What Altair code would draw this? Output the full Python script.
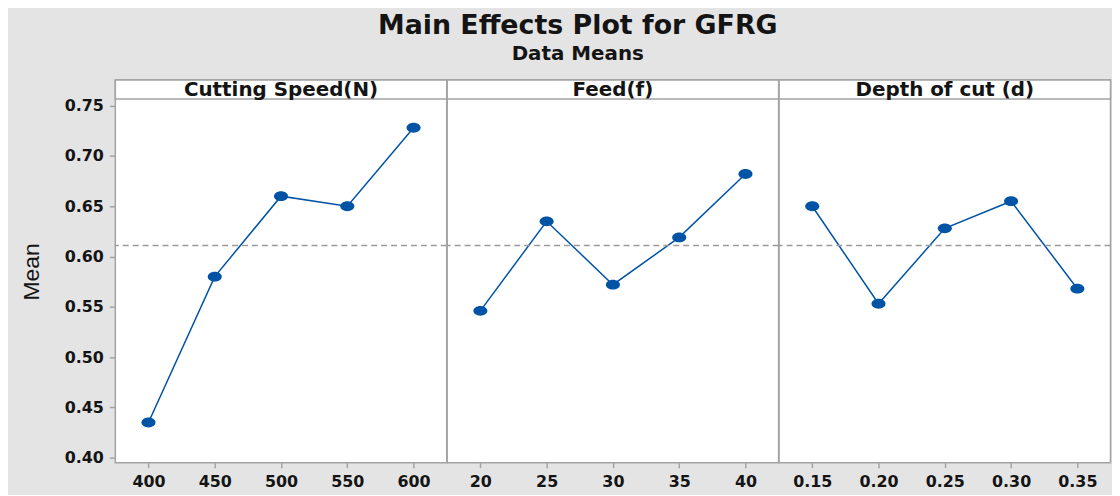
import altair as alt
import pandas as pd

# ---- data ----
speed_levels = [400, 450, 500, 550, 600]
speed_means = [0.435, 0.580, 0.660, 0.650, 0.728]

feed_levels = [20, 25, 30, 35, 40]
feed_means = [0.546, 0.635, 0.572, 0.619, 0.682]

depth_levels = [0.15, 0.20, 0.25, 0.30, 0.35]
depth_means = [0.650, 0.553, 0.628, 0.655, 0.568]

grand_mean = 0.611
panel_titles = ["Cutting Speed(N)", "Feed(f)", "Depth of cut (d)"]
y_ticks = [0.40, 0.45, 0.50, 0.55, 0.60, 0.65, 0.70, 0.75]

# ---- style ----
BLUE = "#0053a5"
FRAME = "#a3a3a3"
BG = "#e4e4e4"
TXT = "#141414"
W = 333.5
H = 385
HEAD = 19
Y_DOMAIN = [0.39506, 0.77540]
LABEL_FONT = "DejaVu Sans"
ELLIPSE = "M-1,0A1,0.7,0,1,1,1,0A1,0.7,0,1,1,-1,0Z"


def panel(levels, means, title, x_domain, fmt, show_y):
    df = pd.DataFrame({"level": levels, "mean": means})
    x = alt.X(
        "level:Q",
        scale=alt.Scale(domain=x_domain, nice=False, zero=False),
        axis=alt.Axis(
            values=levels, format=fmt, title=None, grid=False, domain=False,
            tickSize=5, tickColor=FRAME, tickWidth=1.5,
            labelFont=LABEL_FONT, labelFontSize=16, labelFontWeight="bold",
            labelColor=TXT, labelPadding=6, labelFlush=False,
        ),
    )
    if show_y:
        y_axis = alt.Axis(
            values=y_ticks, format=".2f", title="Mean", grid=False, domain=False,
            tickSize=6, tickColor=FRAME, tickWidth=1.5,
            labelFont=LABEL_FONT, labelFontSize=16, labelFontWeight="bold",
            labelColor=TXT, labelPadding=6,
            titleFont="Liberation Sans Narrow, Liberation Sans", titleFontSize=23,
            titleFontWeight="normal", titleColor=TXT, titlePadding=21,
        )
    else:
        y_axis = None
    yscale = alt.Scale(domain=Y_DOMAIN, nice=False, zero=False)
    y = alt.Y("mean:Q", scale=yscale, axis=y_axis)

    base = alt.Chart(df)
    line = base.mark_line(color=BLUE, strokeWidth=1.5).encode(x=x, y=y)
    pts = base.mark_point(
        filled=True, color=BLUE, opacity=1, size=200, shape=ELLIPSE
    ).encode(x=x, y=y)

    gdf = pd.DataFrame({"mean": [grand_mean]})
    rule = alt.Chart(gdf).mark_rule(
        color="#9a9a9a", strokeDash=[6, 4], strokeWidth=1.5
    ).encode(y=alt.Y("mean:Q", scale=yscale, axis=y_axis))

    hdf = pd.DataFrame({"t": [title]})
    head_box = alt.Chart(hdf).mark_rect(
        fill="white", stroke=FRAME, strokeWidth=1.5
    ).encode(
        x=alt.value(0), x2=alt.value(W), y=alt.value(0), y2=alt.value(HEAD)
    )
    head_txt = alt.Chart(hdf).mark_text(
        font=LABEL_FONT, fontSize=20, fontWeight="bold", color=TXT,
        align="center", baseline="middle",
    ).encode(x=alt.value(W / 2), y=alt.value(HEAD / 2 + 1), text="t:N")

    return alt.layer(line, rule, pts, head_box, head_txt).properties(width=W, height=H)


p1 = panel(speed_levels, speed_means, panel_titles[0], [375, 625], "d", True)
p2 = panel(feed_levels, feed_means, panel_titles[1], [17.5, 42.5], "d", False)
p3 = panel(depth_levels, depth_means, panel_titles[2], [0.125, 0.375], ".2f", False)

chart = alt.hconcat(p1, p2, p3, spacing=0, bounds="flush").properties(
    title=alt.TitleParams(
        "Main Effects Plot for GFRG",
        subtitle="Data Means",
        font="DejaVu Sans", fontSize=27, fontWeight="bold", color=TXT,
        subtitleFont="DejaVu Sans", subtitleFontSize=20, subtitleFontWeight="bold",
        subtitleColor=TXT, subtitlePadding=4, anchor="middle", offset=14, dx=12,
    ),
    background=BG,
    padding={"left": 11, "top": 2, "right": 0, "bottom": 3},
).configure_view(stroke=FRAME, strokeWidth=1.5, fill="white")

chart.save("out.html", embed_options={"renderer": "svg", "actions": False})
